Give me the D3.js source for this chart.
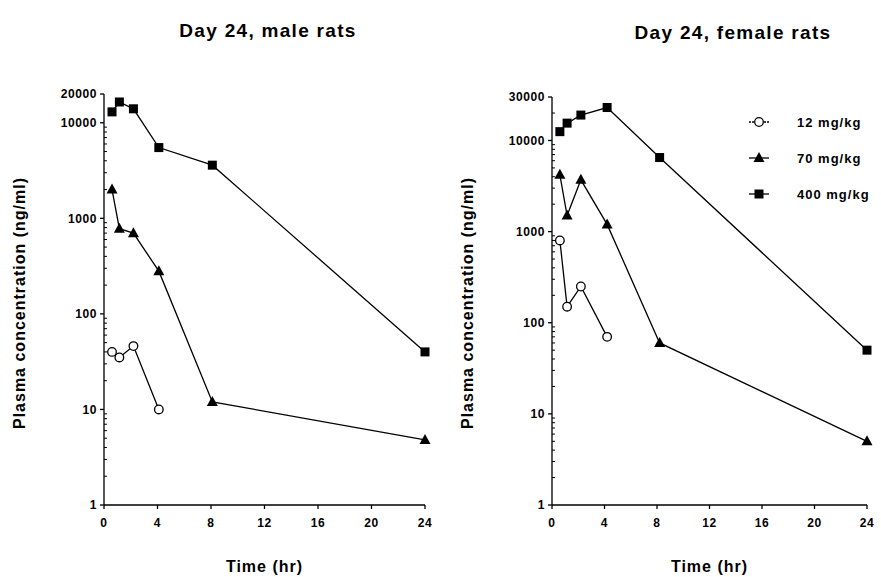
<!DOCTYPE html>
<html>
<head>
<meta charset="utf-8">
<script src="https://cdn.jsdelivr.net/npm/d3@7"></script>
<style>
  body { margin: 0; background: #fff; }
  svg text { font-family: "Liberation Sans", Arial, sans-serif; font-weight: bold; fill: #000; }
</style>
</head>
<body>
<div id="chart"></div>
<script>
// data
var doses = ["12 mg/kg", "70 mg/kg", "400 mg/kg"];
var maleTimes = [0.6, 1.15, 2.2, 4.1, 8.1, 24];
var male12 = [40, 35, 46, 10];
var male70 = [2000, 780, 700, 280, 12, 4.8];
var male400 = [13000, 16500, 14000, 5500, 3600, 40];
var femaleTimes = [0.6, 1.15, 2.2, 4.2, 8.2, 24];
var female12 = [800, 150, 250, 70];
var female70 = [4200, 1500, 3700, 1200, 60, 5];
var female400 = [12500, 15500, 19000, 23000, 6500, 50];
var xTicks = [0, 4, 8, 12, 16, 20, 24];
var maleYTicks = [1, 10, 100, 1000, 10000, 20000];
var femaleYTicks = [1, 10, 100, 1000, 10000, 30000];

var W = 881, H = 577;
var svg = d3.select("#chart").append("svg")
    .attr("width", W)
    .attr("height", H);

function drawPanel(opt) {
    var x = d3.scaleLinear().domain([0, 24]).range([opt.x0, opt.x1]);
    var y = d3.scaleLog().domain([1, opt.yMax]).range([opt.y0, opt.y1]);
    var g = svg.append("g");

    // axis lines
    g.append("line").attr("x1", x(0)).attr("x2", x(0)).attr("y1", y(1)).attr("y2", y(opt.yMax))
        .attr("stroke", "#000").attr("stroke-width", 1.3);
    g.append("line").attr("x1", x(0)).attr("x2", x(24)).attr("y1", y(1)).attr("y2", y(1))
        .attr("stroke", "#000").attr("stroke-width", 1.3);

    // minor log ticks (inside)
    var minor = [];
    for (var d = 1; d < opt.yMax; d *= 10) {
        for (var k = 2; k <= 9; k++) if (d * k < opt.yMax) minor.push(d * k);
    }
    g.selectAll(".minor").data(minor).enter().append("line")
        .attr("x1", x(0)).attr("x2", x(0) + 3)
        .attr("y1", function(v) { return y(v); }).attr("y2", function(v) { return y(v); })
        .attr("stroke", "#000").attr("stroke-width", 1);

    // major y ticks
    g.selectAll(".ytick").data(opt.yTicks).enter().append("line")
        .attr("x1", x(0) - 4).attr("x2", x(0))
        .attr("y1", function(v) { return y(v); }).attr("y2", function(v) { return y(v); })
        .attr("stroke", "#000").attr("stroke-width", 1.3);
    g.selectAll(".ylab").data(opt.yTicks).enter().append("text")
        .attr("x", x(0) - 7)
        .attr("y", function(v) { return y(v); })
        .attr("dy", "0.35em")
        .attr("text-anchor", "end")
        .style("font-size", "12px").style("letter-spacing", "0.6px")
        .text(function(v) { return v; });

    // x ticks
    g.selectAll(".xtick").data(xTicks).enter().append("line")
        .attr("x1", function(t) { return x(t); }).attr("x2", function(t) { return x(t); })
        .attr("y1", y(1)).attr("y2", y(1) + 4)
        .attr("stroke", "#000").attr("stroke-width", 1.3);
    g.selectAll(".xlab").data(xTicks).enter().append("text")
        .attr("x", function(t) { return x(t); })
        .attr("y", y(1) + 22)
        .attr("text-anchor", "middle")
        .style("font-size", "12px").style("letter-spacing", "0.6px")
        .text(function(t) { return t; });

    // titles
    g.append("text").attr("x", opt.titleX).attr("y", opt.titleY).attr("text-anchor", "middle")
        .style("font-size", "19px").style("letter-spacing", "1.3px").text(opt.title);
    g.append("text").attr("x", (opt.x0 + opt.x1) / 2).attr("y", 572).attr("text-anchor", "middle")
        .style("font-size", "16px").style("letter-spacing", "1px").text("Time (hr)");
    g.append("text")
        .attr("transform", "translate(" + opt.ylabX + ",303) rotate(-90)")
        .attr("text-anchor", "middle")
        .style("font-size", "16px").style("letter-spacing", "1px")
        .text("Plasma concentration (ng/ml)");

    var line = d3.line()
        .x(function(d) { return x(d[0]); })
        .y(function(d) { return y(d[1]); });

    opt.series.forEach(function(s) {
        var pts = s.values.map(function(v, i) { return [opt.times[i], v]; });
        g.append("path").datum(pts).attr("d", line)
            .attr("fill", "none").attr("stroke", "#000").attr("stroke-width", 1.3);
        drawMarkers(g, pts.map(function(p) { return [x(p[0]), y(p[1])]; }), s.shape);
    });
}

function drawMarkers(g, pts, shape) {
    if (shape === "circle") {
        g.selectAll(null).data(pts).enter().append("circle")
            .attr("cx", function(p) { return p[0]; }).attr("cy", function(p) { return p[1]; })
            .attr("r", 4.3).attr("fill", "#fff").attr("stroke", "#000").attr("stroke-width", 1.3);
    } else if (shape === "triangle") {
        g.selectAll(null).data(pts).enter().append("path")
            .attr("d", function(p) {
                return "M" + p[0] + "," + (p[1] - 6) + "L" + (p[0] + 5.5) + "," + (p[1] + 4) +
                    "L" + (p[0] - 5.5) + "," + (p[1] + 4) + "Z";
            })
            .attr("fill", "#000");
    } else {
        g.selectAll(null).data(pts).enter().append("rect")
            .attr("x", function(p) { return p[0] - 4.5; }).attr("y", function(p) { return p[1] - 4.5; })
            .attr("width", 9).attr("height", 9).attr("fill", "#000");
    }
}

drawPanel({
    x0: 104, x1: 425, y0: 505, y1: 94, yMax: 20000, yTicks: maleYTicks,
    times: maleTimes, title: "Day 24, male rats", titleX: 268, titleY: 37, ylabX: 25,
    series: [
        { values: male12, shape: "circle" },
        { values: male70, shape: "triangle" },
        { values: male400, shape: "square" }
    ]
});

drawPanel({
    x0: 552, x1: 867, y0: 505, y1: 97, yMax: 30000, yTicks: femaleYTicks,
    times: femaleTimes, title: "Day 24, female rats", titleX: 733, titleY: 39, ylabX: 473,
    series: [
        { values: female12, shape: "circle" },
        { values: female70, shape: "triangle" },
        { values: female400, shape: "square" }
    ]
});

// legend
var shapes = ["circle", "triangle", "square"];
var legY = d3.scalePoint().domain(doses).range([122, 194]);
var leg = svg.append("g");
doses.forEach(function(name, i) {
    var ly = legY(name);
    leg.append("line").attr("x1", 749).attr("x2", 769).attr("y1", ly).attr("y2", ly)
        .attr("stroke", "#000").attr("stroke-width", 1.3)
        .attr("stroke-dasharray", i === 0 ? "2,1" : null);
    drawMarkers(leg, [[759, ly]], shapes[i]);
    leg.append("text").attr("x", 797).attr("y", ly).attr("dy", "0.35em")
        .style("font-size", "13px").style("letter-spacing", "1px").text(name);
});
</script>
</body>
</html>
